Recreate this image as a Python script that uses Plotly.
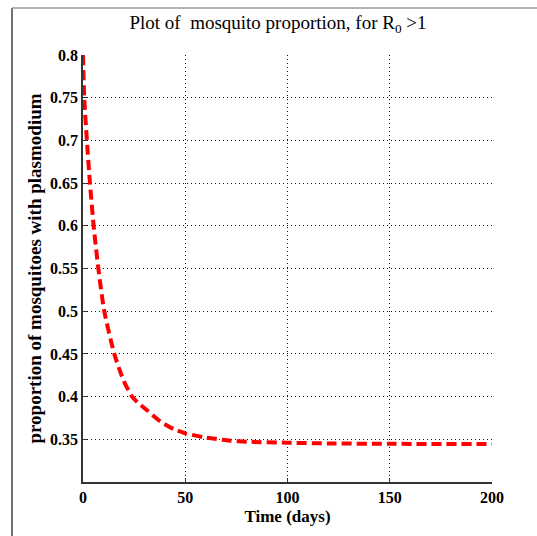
import plotly.graph_objects as go

# Data
time_days = [0, 0.6, 1.9, 3.4, 5.2, 7.5, 10.4, 15.3, 20, 24, 26.4, 31.3, 37.8,
             44.3, 50, 60, 72, 80, 100, 120, 150, 200]
proportion = [0.80, 0.75, 0.70, 0.65, 0.60, 0.55, 0.50, 0.45, 0.418, 0.40, 0.394,
              0.384, 0.371, 0.362, 0.357, 0.352, 0.3484, 0.3472, 0.346, 0.3452,
              0.3447, 0.3445]

x_ticks = [0, 50, 100, 150, 200]
x_tick_labels = ["0", "50", "100", "150", "200"]
y_ticks = [0.35, 0.4, 0.45, 0.5, 0.55, 0.6, 0.65, 0.7, 0.75, 0.8]
y_tick_labels = ["0.35", "0.4", "0.45", "0.5", "0.55", "0.6", "0.65", "0.7", "0.75", "0.8"]

FONT = "Liberation Serif"

fig = go.Figure()
fig.add_trace(go.Scatter(
    x=time_days, y=proportion, mode="lines",
    line=dict(color="#ff0000", width=4, dash="10px,5px", shape="spline", smoothing=0.6),
    showlegend=False,
))

W, H = 537, 536
L, R, T, B = 83, 45, 55, 54
pw, ph = W - L - R, H - T - B

def px_to_paper_x(px):
    return (px - L) / pw

def px_to_paper_y(py):
    return (H - B - py) / ph

axis_common = dict(
    showline=True, linecolor="#333333", linewidth=1.5,
    ticks="inside", ticklen=4, tickcolor="#333333", tickwidth=1,
    showgrid=True, gridcolor="#111111", gridwidth=1, griddash="1px,3px",
    zeroline=False, mirror=False,
    tickfont=dict(family=FONT, size=16, color="black", weight="bold"),
)

fig.update_layout(
    width=W, height=H,
    margin=dict(l=L, r=R, t=T, b=B),
    paper_bgcolor="white", plot_bgcolor="white",
    title=dict(
        text="Plot of  mosquito proportion, for R<sub>0</sub> >1",
        font=dict(family=FONT, size=19, color="black"),
        x=278 / W, xref="container", xanchor="center",
        y=1 - 22 / H, yref="container", yanchor="middle",
    ),
    xaxis=dict(
        range=[0, 200], tickvals=x_ticks, ticktext=x_tick_labels,
        title=dict(text="Time (days)", standoff=5,
                   font=dict(family=FONT, size=17, color="black", weight="bold")),
        **axis_common,
    ),
    yaxis=dict(
        range=[0.3, 0.8], tickvals=y_ticks, ticktext=y_tick_labels,
        title=dict(text="proportion of mosquitoes with plasmodium", standoff=3,
                   font=dict(family=FONT, size=19, color="black", weight="bold")),
        **axis_common,
    ),
    shapes=[
        dict(type="line", xref="paper", yref="paper",
             x0=px_to_paper_x(12), x1=px_to_paper_x(12),
             y0=px_to_paper_y(8), y1=px_to_paper_y(536),
             line=dict(color="#444444", width=1.5)),
        dict(type="line", xref="paper", yref="paper",
             x0=px_to_paper_x(12), x1=px_to_paper_x(537),
             y0=px_to_paper_y(8), y1=px_to_paper_y(8),
             line=dict(color="#999999", width=1.5)),
    ],
)

fig.write_html("out.html")
